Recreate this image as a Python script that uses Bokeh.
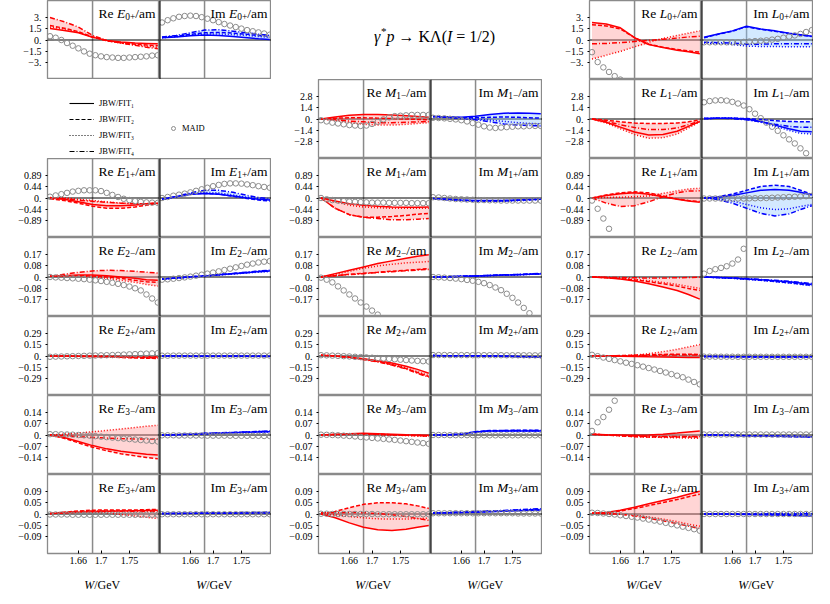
import numpy as np
from bokeh.plotting import figure
from bokeh.layouts import row, column
from bokeh.models import Range1d, Span, Label, Legend, LegendItem, FixedTicker
from bokeh.embed import file_html
from bokeh.resources import INLINE

nan = float("nan")

# ---------------- data ----------------
W_FIT = [1.61, 1.635, 1.66, 1.685, 1.71, 1.735, 1.76, 1.78, 1.80]
W_MAID = [1.61, 1.62, 1.63, 1.64, 1.65, 1.66, 1.67, 1.68, 1.69, 1.70,
          1.71, 1.72, 1.73, 1.74, 1.75, 1.76, 1.77, 1.78, 1.79, 1.80]
X_TICKS = [1.66, 1.70, 1.75]
X_TICK_LABELS = ["1.66", "1.7", "1.75"]
W_MARK = 1.685
ROW_TICK = [3.0, 2.8, 0.89, 0.17, 0.29, 0.14, 0.09]
ROW_TICK_LABELS = [("3.", "1.5"), ("2.8", "1.4"), ("0.89", "0.44"), ("0.17", "0.08"),
                   ("0.29", "0.15"), ("0.14", "0.07"), ("0.09", "0.05")]
FIT_LABELS = ["JBW/FIT\u2081", "JBW/FIT\u2082", "JBW/FIT\u2083", "JBW/FIT\u2084"]
MAID_LABEL = "MAID"

# each panel: 4 fits (FIT1..FIT4) on W_FIT, MAID on W_MAID
RE_E0P = [[1.5, 1.25, 0.95, 0.35, -0.05, -0.25, -0.4, -0.45, -0.5],
          [1.9, 1.55, 1.1, 0.4, -0.1, -0.35, -0.55, -0.65, -0.75],
          [1.7, 1.45, 1.0, 0.4, -0.1, -0.4, -0.65, -0.8, -0.95],
          [2.95, 2.4, 1.7, 0.6, -0.05, -0.4, -0.7, -0.95, -1.15]]
RE_E0P_MAID = [0.5, 0.3, 0.0, -0.4, -0.75, -1.1, -1.5, -1.8, -2.0, -2.15,
               -2.25, -2.3, -2.35, -2.35, -2.3, -2.25, -2.2, -2.15, -2.05, -2.0]
IM_E0P = [[0.3, 0.4, 0.55, 0.65, 0.6, 0.45, 0.3, 0.15, 0.05],
          [0.35, 0.5, 0.75, 0.95, 1.0, 0.9, 0.75, 0.6, 0.5],
          [0.3, 0.45, 0.65, 0.8, 0.8, 0.7, 0.6, 0.45, 0.35],
          [0.4, 0.6, 0.95, 1.3, 1.35, 1.15, 0.95, 0.75, 0.6]]
IM_E0P_MAID = [2.3, 2.6, 2.85, 3.05, 3.15, 3.2, 3.15, 3.0, 2.8, 2.6,
               2.35, 2.1, 1.9, 1.7, 1.5, 1.3, 1.15, 1.0, 0.85, 0.7]

RE_L0P = [[2.3, 2.1, 1.6, 0.3, -0.6, -1.0, -1.35, -1.55, -1.8],
          [2.0, 1.85, 1.45, 0.3, -0.55, -0.95, -1.25, -1.45, -1.6],
          [-2.5, -2.0, -1.5, -0.9, -0.3, 0.2, 0.6, 0.9, 1.2],
          [-0.5, -0.45, -0.35, -0.2, -0.05, 0.1, 0.25, 0.4, 0.5]]
RE_L0P_MAID = [-1.6, -2.9, -3.6, -4.2, -4.75, -5.2, nan, nan, nan, nan,
               nan, nan, nan, nan, nan, nan, nan, nan, nan, nan]
IM_L0P = [[0.35, 0.8, 1.2, 1.8, 1.45, 1.2, 0.9, 0.7, 0.5],
          [0.3, 0.75, 1.15, 1.75, 1.4, 1.15, 0.85, 0.65, 0.45],
          [-0.4, -0.5, -0.6, -0.8, -0.85, -0.85, -0.9, -0.9, -0.9],
          [-0.3, -0.35, -0.4, -0.55, -0.55, -0.5, -0.5, -0.5, -0.5]]
IM_L0P_MAID = [-0.3, -0.3, -0.3, -0.3, -0.3, -0.3, -0.3, -0.25, -0.2, -0.15,
               -0.1, -0.05, 0.05, 0.15, 0.3, 0.45, 0.6, 0.8, 1.05, 1.3]

RE_M1M = [[0.0, 0.25, 0.45, 0.55, 0.55, 0.5, 0.4, 0.3, 0.2],
          [0.0, 0.1, 0.15, 0.15, 0.1, 0.05, 0.0, -0.05, -0.1],
          [0.0, -0.2, -0.45, -0.65, -0.75, -0.75, -0.65, -0.55, -0.45],
          [0.0, -0.1, -0.25, -0.35, -0.45, -0.45, -0.4, -0.35, -0.3]]
RE_M1M_MAID = [-0.15, -0.3, -0.45, -0.55, -0.65, -0.75, -0.8, -0.85, -0.8, -0.6,
               -0.35, -0.05, 0.2, 0.35, 0.4, 0.45, 0.5, 0.5, 0.5, 0.5]
IM_M1M = [[0.3, 0.25, 0.2, 0.35, 0.55, 0.7, 0.75, 0.7, 0.65],
          [0.3, 0.25, 0.15, 0.15, 0.2, 0.25, 0.2, 0.15, 0.1],
          [0.3, 0.2, 0.1, 0.0, -0.15, -0.3, -0.45, -0.55, -0.6],
          [0.3, 0.2, 0.05, -0.1, -0.35, -0.6, -0.75, -0.8, -0.85]]
IM_M1M_MAID = [0.15, 0.12, 0.08, 0.02, -0.05, -0.15, -0.3, -0.5, -0.7, -0.9,
               -1.05, -1.1, -1.05, -1.0, -0.95, -0.9, -0.9, -0.85, -0.85, -0.85]

RE_L1M = [[0.0, -0.4, -1.0, -1.6, -1.95, -1.9, -1.5, -0.9, -0.3],
          [0.0, -0.15, -0.35, -0.5, -0.55, -0.55, -0.5, -0.35, -0.1],
          [0.0, -0.5, -1.2, -1.9, -2.35, -2.3, -1.85, -1.1, -0.35],
          [0.0, -0.3, -0.7, -1.05, -1.3, -1.3, -1.1, -0.7, -0.25]]
RE_L1M_MAID = [nan, nan, nan, nan, nan, nan, nan, nan, nan, nan,
               nan, nan, nan, nan, nan, nan, nan, nan, nan, nan]
IM_L1M = [[0.05, 0.1, 0.1, 0.0, -0.3, -0.75, -1.2, -1.5, -1.55],
          [0.05, 0.1, 0.1, 0.05, -0.05, -0.2, -0.3, -0.35, -0.35],
          [0.05, 0.1, 0.1, -0.05, -0.4, -0.9, -1.4, -1.75, -1.85],
          [0.05, 0.1, 0.05, -0.1, -0.35, -0.65, -0.9, -1.0, -1.0]]
IM_L1M_MAID = [2.05, 2.2, 2.28, 2.3, 2.25, 2.1, 1.9, 1.65, 1.2, 0.65,
               0.1, -0.45, -0.95, -1.45, -2.0, -2.5, -3.0, -3.6, -4.2, nan]

RE_E1P = [[0.0, -0.05, -0.15, -0.25, -0.3, -0.3, -0.27, -0.22, -0.2],
          [-0.03, -0.1, -0.2, -0.32, -0.4, -0.4, -0.35, -0.28, -0.22],
          [0.02, 0.0, -0.05, -0.1, -0.15, -0.2, -0.22, -0.22, -0.2],
          [0.0, -0.03, -0.08, -0.13, -0.17, -0.2, -0.22, -0.22, -0.2]]
RE_E1P_MAID = [0.05, 0.1, 0.15, 0.2, 0.25, 0.28, 0.3, 0.3, 0.3, 0.27,
               0.2, 0.12, 0.04, -0.03, -0.08, -0.12, -0.15, -0.17, -0.18, -0.19]
IM_E1P = [[-0.05, 0.05, 0.15, 0.18, 0.15, 0.08, 0.0, -0.05, -0.08],
          [-0.05, 0.05, 0.15, 0.18, 0.15, 0.07, -0.02, -0.08, -0.12],
          [-0.05, 0.05, 0.16, 0.22, 0.2, 0.12, 0.03, -0.03, -0.07],
          [-0.05, 0.06, 0.2, 0.3, 0.3, 0.22, 0.1, 0.02, -0.03]]
IM_E1P_MAID = [0.0, 0.04, 0.09, 0.13, 0.17, 0.22, 0.28, 0.34, 0.4, 0.46,
               0.51, 0.55, 0.57, 0.57, 0.56, 0.53, 0.5, 0.46, 0.43, 0.4]

RE_M1P = [[0.0, -0.12, -0.22, -0.28, -0.32, -0.35, -0.36, -0.36, -0.35],
          [0.0, -0.4, -0.65, -0.75, -0.75, -0.72, -0.68, -0.63, -0.6],
          [0.0, -0.15, -0.28, -0.35, -0.38, -0.4, -0.4, -0.4, -0.4],
          [0.0, -0.4, -0.65, -0.75, -0.8, -0.85, -0.85, -0.83, -0.8]]
RE_M1P_MAID = [0.0, -0.05, -0.08, -0.1, -0.12, -0.14, -0.15, -0.16, -0.17, -0.18,
               -0.18, -0.18, -0.19, -0.19, -0.19, -0.19, -0.2, -0.2, -0.2, -0.2]
IM_M1P = [[-0.02, -0.05, -0.08, -0.1, -0.1, -0.1, -0.08, -0.06, -0.05],
          [-0.03, -0.07, -0.1, -0.12, -0.12, -0.11, -0.09, -0.07, -0.05],
          [-0.02, -0.06, -0.1, -0.13, -0.14, -0.13, -0.11, -0.08, -0.06],
          [-0.03, -0.06, -0.09, -0.11, -0.11, -0.1, -0.08, -0.06, -0.05]]
IM_M1P_MAID = [0.03, 0.02, 0.0, -0.02, -0.04, -0.05, -0.06, -0.07, -0.08, -0.08,
               -0.09, -0.09, -0.1, -0.1, -0.1, -0.1, -0.1, -0.1, -0.1, -0.1]

RE_L1P = [[0.0, 0.1, 0.17, 0.2, 0.15, 0.05, -0.05, -0.12, -0.17],
          [0.0, 0.12, 0.2, 0.24, 0.2, 0.08, -0.04, -0.1, -0.14],
          [0.0, 0.02, 0.03, 0.05, 0.08, 0.18, 0.28, 0.35, 0.38],
          [0.0, -0.2, -0.33, -0.3, -0.15, 0.05, 0.2, 0.27, 0.28]]
RE_L1P_MAID = [-0.1, -0.42, -0.8, -1.2, nan, nan, nan, nan, nan, nan,
               nan, nan, nan, nan, nan, nan, nan, nan, nan, nan]
IM_L1P = [[0.0, 0.03, 0.1, 0.2, 0.3, 0.33, 0.3, 0.22, 0.12],
          [0.0, 0.05, 0.15, 0.3, 0.45, 0.5, 0.45, 0.3, 0.15],
          [0.0, -0.04, -0.12, -0.25, -0.38, -0.45, -0.42, -0.33, -0.25],
          [0.0, -0.06, -0.2, -0.4, -0.6, -0.7, -0.62, -0.45, -0.3]]
IM_L1P_MAID = [-0.02, -0.02, -0.02, -0.02, -0.02, -0.02, -0.02, -0.02, -0.015, -0.01,
               -0.005, 0.0, 0.01, 0.02, 0.03, 0.04, 0.05, 0.06, 0.07, 0.08]

RE_E2M = [[0.005, 0.01, 0.015, 0.015, 0.01, 0.0, -0.01, -0.02, -0.025],
          [0.005, 0.008, 0.01, 0.008, 0.0, -0.01, -0.025, -0.035, -0.04],
          [0.005, 0.005, 0.005, 0.0, -0.01, -0.025, -0.04, -0.055, -0.068],
          [0.005, 0.02, 0.035, 0.045, 0.05, 0.048, 0.042, 0.036, 0.03]]
RE_E2M_MAID = [0.0, -0.003, -0.005, -0.008, -0.01, -0.013, -0.016, -0.02, -0.025, -0.03,
               -0.036, -0.043, -0.051, -0.06, -0.071, -0.084, -0.1, -0.13, -0.16, -0.19]
IM_E2M = [[-0.015, -0.008, 0.0, 0.008, 0.016, 0.024, 0.032, 0.04, 0.045],
          [-0.015, -0.008, 0.0, 0.008, 0.016, 0.025, 0.034, 0.042, 0.048],
          [-0.015, -0.009, -0.002, 0.006, 0.014, 0.022, 0.03, 0.036, 0.04],
          [-0.015, -0.007, 0.002, 0.01, 0.018, 0.027, 0.036, 0.044, 0.05]]
IM_E2M_MAID = [-0.02, -0.017, -0.013, -0.008, -0.003, 0.003, 0.01, 0.017, 0.025, 0.033,
               0.042, 0.052, 0.062, 0.072, 0.082, 0.092, 0.1, 0.108, 0.114, 0.118]

RE_M2M = [[0.0, 0.025, 0.05, 0.075, 0.1, 0.12, 0.14, 0.155, 0.165],
          [0.0, 0.01, 0.02, 0.028, 0.035, 0.043, 0.05, 0.056, 0.062],
          [0.0, 0.02, 0.042, 0.065, 0.082, 0.095, 0.105, 0.11, 0.115],
          [0.0, 0.01, 0.018, 0.025, 0.033, 0.04, 0.046, 0.052, 0.056]]
RE_M2M_MAID = [-0.005, -0.02, -0.04, -0.07, -0.1, -0.13, -0.16, -0.19, -0.22, -0.25,
               -0.28, nan, nan, nan, nan, nan, nan, nan, nan, nan]
IM_M2M = [[0.0, 0.002, 0.005, 0.008, 0.011, 0.014, 0.017, 0.02, 0.023],
          [0.0, 0.002, 0.005, 0.008, 0.011, 0.015, 0.018, 0.021, 0.025],
          [0.0, 0.002, 0.004, 0.007, 0.01, 0.013, 0.016, 0.019, 0.022],
          [0.0, 0.002, 0.005, 0.009, 0.012, 0.016, 0.019, 0.023, 0.026]]
IM_M2M_MAID = [0.0, -0.002, -0.005, -0.008, -0.012, -0.016, -0.022, -0.028, -0.036, -0.046,
               -0.06, -0.078, -0.098, -0.125, -0.155, -0.19, -0.23, -0.27, nan, nan]

RE_L2M = [[0.0, -0.005, -0.015, -0.03, -0.05, -0.075, -0.1, -0.13, -0.165],
          [0.0, -0.005, -0.012, -0.022, -0.035, -0.05, -0.068, -0.085, -0.1],
          [0.0, -0.004, -0.01, -0.018, -0.028, -0.04, -0.055, -0.07, -0.085],
          [0.0, -0.002, -0.004, -0.006, -0.007, -0.007, -0.006, -0.004, -0.002]]
RE_L2M_MAID = [nan, nan, nan, nan, nan, nan, nan, nan, nan, nan,
               nan, nan, nan, nan, nan, nan, nan, nan, nan, nan]
IM_L2M = [[0.0, -0.004, -0.008, -0.014, -0.02, -0.028, -0.036, -0.045, -0.055],
          [0.0, -0.004, -0.009, -0.016, -0.024, -0.033, -0.043, -0.053, -0.062],
          [0.0, -0.005, -0.01, -0.017, -0.025, -0.035, -0.045, -0.055, -0.065],
          [0.0, -0.003, -0.007, -0.012, -0.018, -0.025, -0.032, -0.04, -0.048]]
IM_L2M_MAID = [0.025, 0.045, 0.058, 0.068, 0.08, 0.1, 0.13, 0.21, nan, nan,
               nan, nan, nan, nan, nan, nan, nan, nan, nan, nan]

RE_E2P = [[0.0, 0.0, -0.002, -0.004, -0.006, -0.008, -0.01, -0.012, -0.014],
          [0.0, -0.002, -0.005, -0.009, -0.014, -0.019, -0.024, -0.028, -0.032],
          [0.0, 0.0, 0.0, 0.0, -0.002, -0.005, -0.008, -0.01, -0.012],
          [0.0, -0.001, -0.004, -0.007, -0.011, -0.015, -0.019, -0.022, -0.025]]
RE_E2P_MAID = [-0.01, -0.008, -0.006, -0.004, -0.002, 0.0, 0.002, 0.004, 0.006, 0.008,
               0.01, 0.012, 0.015, 0.018, 0.021, 0.024, 0.027, 0.03, 0.033, 0.036]
IM_E2P = [[0.0, -0.001, -0.002, -0.003, -0.003, -0.003, -0.003, -0.003, -0.004],
          [0.0, -0.001, -0.002, -0.002, -0.003, -0.003, -0.004, -0.004, -0.005],
          [0.0, 0.0, -0.001, -0.002, -0.002, -0.002, -0.002, -0.002, -0.002],
          [0.0, -0.001, -0.002, -0.003, -0.004, -0.004, -0.004, -0.005, -0.005]]
IM_E2P_MAID = [0.004, 0.004, 0.005, 0.005, 0.005, 0.005, 0.005, 0.005, 0.005, 0.005,
               0.005, 0.005, 0.005, 0.005, 0.005, 0.005, 0.005, 0.005, 0.005, 0.005]

RE_M2P = [[0.01, 0.0, -0.015, -0.035, -0.06, -0.09, -0.13, -0.17, -0.22],
          [0.01, 0.0, -0.018, -0.04, -0.07, -0.11, -0.16, -0.21, -0.26],
          [0.01, 0.0, -0.017, -0.04, -0.068, -0.105, -0.15, -0.2, -0.25],
          [0.01, 0.0, -0.02, -0.045, -0.075, -0.115, -0.165, -0.22, -0.27]]
RE_M2P_MAID = [0.01, 0.008, 0.005, 0.002, -0.002, -0.006, -0.01, -0.014, -0.018, -0.022,
               -0.027, -0.032, -0.037, -0.042, -0.047, -0.052, -0.057, -0.062, -0.066, -0.07]
IM_M2P = [[0.005, 0.004, 0.003, 0.002, 0.0, -0.003, -0.006, -0.01, -0.014],
          [0.005, 0.004, 0.003, 0.001, -0.001, -0.004, -0.008, -0.012, -0.016],
          [0.005, 0.004, 0.003, 0.002, 0.001, -0.002, -0.005, -0.008, -0.011],
          [0.005, 0.004, 0.003, 0.001, -0.002, -0.005, -0.009, -0.013, -0.018]]
IM_M2P_MAID = [0.012, 0.012, 0.012, 0.011, 0.011, 0.011, 0.011, 0.01, 0.01, 0.01,
               0.01, 0.01, 0.01, 0.009, 0.009, 0.009, 0.009, 0.008, 0.008, 0.008]

RE_L2P = [[0.0, 0.0, -0.003, -0.006, -0.01, -0.013, -0.016, -0.018, -0.02],
          [0.0, 0.002, 0.005, 0.01, 0.015, 0.02, 0.022, 0.022, 0.02],
          [0.0, 0.0, 0.002, 0.01, 0.03, 0.055, 0.085, 0.115, 0.145],
          [0.0, 0.001, 0.003, 0.006, 0.009, 0.011, 0.012, 0.012, 0.012]]
RE_L2P_MAID = [0.015, -0.002, -0.02, -0.036, -0.052, -0.068, -0.085, -0.1, -0.117, -0.135,
               -0.153, -0.172, -0.19, -0.21, -0.23, -0.25, -0.27, -0.3, -0.33, -0.36]
IM_L2P = [[-0.005, -0.007, -0.009, -0.01, -0.01, -0.011, -0.011, -0.011, -0.011],
          [-0.005, -0.008, -0.01, -0.011, -0.012, -0.012, -0.012, -0.012, -0.012],
          [-0.005, -0.006, -0.008, -0.009, -0.009, -0.01, -0.01, -0.01, -0.01],
          [-0.005, -0.007, -0.009, -0.01, -0.011, -0.011, -0.012, -0.012, -0.012]]
IM_L2P_MAID = [-0.008, -0.008, -0.009, -0.009, -0.009, -0.009, -0.01, -0.01, -0.01, -0.01,
               -0.01, -0.01, -0.01, -0.01, -0.01, -0.01, -0.01, -0.01, -0.01, -0.01]

RE_E3M = [[0.0, -0.015, -0.04, -0.065, -0.085, -0.1, -0.11, -0.118, -0.122],
          [0.0, -0.02, -0.048, -0.075, -0.097, -0.115, -0.128, -0.138, -0.145],
          [0.0, 0.005, 0.012, 0.02, 0.028, 0.037, 0.046, 0.054, 0.06],
          [0.0, -0.004, -0.01, -0.015, -0.019, -0.022, -0.024, -0.025, -0.025]]
RE_E3M_MAID = [0.005, 0.005, 0.004, 0.003, 0.002, 0.0, -0.002, -0.004, -0.007, -0.01,
               -0.013, -0.016, -0.019, -0.022, -0.025, -0.028, -0.031, -0.034, -0.037, -0.04]
IM_E3M = [[0.0, 0.002, 0.005, 0.008, 0.011, 0.014, 0.017, 0.019, 0.02],
          [0.0, 0.002, 0.006, 0.009, 0.012, 0.015, 0.018, 0.021, 0.023],
          [0.0, 0.002, 0.004, 0.007, 0.01, 0.013, 0.015, 0.017, 0.018],
          [0.0, 0.003, 0.006, 0.01, 0.013, 0.016, 0.019, 0.022, 0.024]]
IM_E3M_MAID = [-0.002, -0.002, -0.002, -0.003, -0.003, -0.003, -0.003, -0.003, -0.004, -0.004,
               -0.004, -0.004, -0.004, -0.005, -0.005, -0.005, -0.005, -0.005, -0.006, -0.006]

RE_M3M = [[0.0, 0.004, 0.008, 0.01, 0.008, 0.005, 0.002, 0.0, -0.002],
          [0.0, 0.003, 0.006, 0.007, 0.005, 0.002, -0.001, -0.003, -0.005],
          [0.0, 0.002, 0.004, 0.004, 0.002, 0.0, -0.003, -0.006, -0.008],
          [0.0, 0.003, 0.005, 0.006, 0.004, 0.001, -0.002, -0.004, -0.006]]
RE_M3M_MAID = [0.002, 0.001, 0.0, -0.002, -0.004, -0.006, -0.009, -0.012, -0.015, -0.018,
               -0.021, -0.024, -0.027, -0.03, -0.034, -0.038, -0.042, -0.046, -0.05, -0.054]
IM_M3M = [[0.0, 0.001, 0.005, 0.018, 0.024, 0.025, 0.025, 0.025, 0.025],
          [0.0, 0.001, 0.006, 0.02, 0.027, 0.028, 0.029, 0.029, 0.03],
          [0.0, 0.001, 0.004, 0.016, 0.022, 0.023, 0.023, 0.023, 0.023],
          [0.0, 0.001, 0.006, 0.02, 0.026, 0.027, 0.028, 0.028, 0.028]]
IM_M3M_MAID = [0.0, 0.0, 0.0, -0.001, -0.001, -0.001, -0.001, -0.001, -0.002, -0.002,
               -0.002, -0.002, -0.002, -0.002, -0.002, -0.002, -0.002, -0.002, -0.002, -0.002]

RE_L3M = [[0.005, 0.002, 0.0, -0.002, 0.0, 0.005, 0.012, 0.018, 0.024],
          [0.005, 0.0, -0.005, -0.01, -0.012, -0.012, -0.012, -0.012, -0.012],
          [0.005, 0.0, -0.005, -0.01, -0.013, -0.015, -0.017, -0.019, -0.021],
          [0.005, 0.001, -0.003, -0.006, -0.008, -0.009, -0.009, -0.009, -0.009]]
RE_L3M_MAID = [0.025, 0.078, 0.11, 0.155, 0.21, nan, nan, nan, nan, nan,
               nan, nan, nan, nan, nan, nan, nan, nan, nan, nan]
IM_L3M = [[0.0, -0.001, -0.002, -0.004, -0.006, -0.007, -0.008, -0.009, -0.01],
          [0.0, -0.001, -0.003, -0.005, -0.007, -0.009, -0.01, -0.011, -0.012],
          [0.0, -0.001, -0.002, -0.003, -0.004, -0.005, -0.006, -0.007, -0.008],
          [0.0, -0.001, -0.003, -0.005, -0.006, -0.008, -0.009, -0.01, -0.011]]
IM_L3M_MAID = [0.003, 0.003, 0.003, 0.003, 0.003, 0.003, 0.003, 0.003, 0.003, 0.003,
               0.003, 0.003, 0.003, 0.003, 0.003, 0.003, 0.003, 0.003, 0.003, 0.003]

RE_E3P = [[0.002, 0.004, 0.007, 0.009, 0.011, 0.012, 0.013, 0.014, 0.015],
          [0.002, 0.007, 0.012, 0.015, 0.016, 0.016, 0.016, 0.017, 0.018],
          [0.002, 0.006, 0.009, 0.008, 0.004, -0.002, -0.008, -0.013, -0.018],
          [0.002, 0.006, 0.01, 0.012, 0.012, 0.011, 0.01, 0.01, 0.01]]
RE_E3P_MAID = [-0.002, -0.002, -0.002, -0.002, -0.003, -0.003, -0.003, -0.003, -0.003, -0.003,
               -0.003, -0.003, -0.003, -0.003, -0.003, -0.003, -0.003, -0.003, -0.003, -0.003]
IM_E3P = [[0.002, 0.002, 0.003, 0.003, 0.003, 0.004, 0.004, 0.005, 0.005],
          [0.002, 0.003, 0.003, 0.004, 0.004, 0.005, 0.005, 0.006, 0.006],
          [0.002, 0.002, 0.002, 0.003, 0.003, 0.003, 0.004, 0.004, 0.004],
          [0.002, 0.003, 0.003, 0.004, 0.005, 0.005, 0.006, 0.006, 0.007]]
IM_E3P_MAID = [-0.001, -0.001, -0.001, -0.001, -0.001, -0.001, -0.001, -0.001, -0.001, -0.001,
               -0.001, -0.001, -0.001, -0.001, -0.001, -0.001, -0.001, -0.001, -0.001, -0.001]

RE_M3P = [[0.0, -0.015, -0.035, -0.052, -0.062, -0.065, -0.06, -0.052, -0.045],
          [0.0, 0.01, 0.025, 0.038, 0.044, 0.044, 0.04, 0.032, 0.022],
          [0.0, -0.004, -0.01, -0.015, -0.019, -0.02, -0.02, -0.018, -0.016],
          [0.005, 0.005, 0.006, 0.005, 0.002, -0.003, -0.01, -0.018, -0.025]]
RE_M3P_MAID = [0.001, 0.001, 0.0, 0.0, 0.0, 0.0, 0.0, 0.0, 0.0, 0.0,
               -0.001, -0.001, -0.001, -0.001, -0.001, -0.001, -0.001, -0.001, -0.001, -0.001]
IM_M3P = [[0.004, 0.005, 0.006, 0.007, 0.009, 0.011, 0.013, 0.015, 0.016],
          [0.004, 0.005, 0.007, 0.009, 0.011, 0.013, 0.015, 0.017, 0.018],
          [0.004, 0.005, 0.006, 0.008, 0.01, 0.012, 0.014, 0.016, 0.017],
          [0.004, 0.006, 0.008, 0.01, 0.012, 0.014, 0.017, 0.019, 0.021]]
IM_M3P_MAID = [0.003, 0.003, 0.003, 0.003, 0.003, 0.003, 0.003, 0.003, 0.003, 0.003,
               0.003, 0.003, 0.003, 0.003, 0.003, 0.002, 0.002, 0.002, 0.002, 0.002]

RE_L3P = [[0.003, 0.006, 0.015, 0.027, 0.04, 0.053, 0.066, 0.078, 0.09],
          [0.003, 0.005, 0.012, 0.022, 0.033, 0.045, 0.057, 0.068, 0.078],
          [0.003, 0.002, 0.0, -0.005, -0.012, -0.02, -0.03, -0.04, -0.048],
          [0.003, 0.002, -0.001, -0.008, -0.017, -0.027, -0.038, -0.048, -0.058]]
RE_L3P_MAID = [0.005, 0.004, 0.002, 0.0, -0.002, -0.005, -0.008, -0.011, -0.014, -0.018,
               -0.022, -0.026, -0.03, -0.035, -0.04, -0.045, -0.05, -0.055, -0.06, -0.066]
IM_L3P = [[0.0, 0.0, -0.001, -0.002, -0.003, -0.004, -0.005, -0.007, -0.008],
          [0.0, 0.0, -0.001, -0.001, -0.002, -0.002, -0.003, -0.003, -0.004],
          [0.0, 0.0, 0.001, 0.001, 0.002, 0.002, 0.003, 0.004, 0.005],
          [0.0, 0.0, 0.0, 0.0, 0.0, 0.0, 0.0, 0.001, 0.001]]
IM_L3P_MAID = [0.0, 0.0, 0.0, 0.0, 0.0, 0.0, 0.0, 0.0, 0.0, 0.0,
               0.0, 0.0, 0.0, 0.0, 0.0, 0.0, 0.0, 0.0, 0.0, 0.0]

# panel table: (letter, subscript) -> data
PANELS = {
    ("E", "0+"): (RE_E0P, RE_E0P_MAID, IM_E0P, IM_E0P_MAID),
    ("L", "0+"): (RE_L0P, RE_L0P_MAID, IM_L0P, IM_L0P_MAID),
    ("M", "1\u2212"): (RE_M1M, RE_M1M_MAID, IM_M1M, IM_M1M_MAID),
    ("L", "1\u2212"): (RE_L1M, RE_L1M_MAID, IM_L1M, IM_L1M_MAID),
    ("E", "1+"): (RE_E1P, RE_E1P_MAID, IM_E1P, IM_E1P_MAID),
    ("M", "1+"): (RE_M1P, RE_M1P_MAID, IM_M1P, IM_M1P_MAID),
    ("L", "1+"): (RE_L1P, RE_L1P_MAID, IM_L1P, IM_L1P_MAID),
    ("E", "2\u2212"): (RE_E2M, RE_E2M_MAID, IM_E2M, IM_E2M_MAID),
    ("M", "2\u2212"): (RE_M2M, RE_M2M_MAID, IM_M2M, IM_M2M_MAID),
    ("L", "2\u2212"): (RE_L2M, RE_L2M_MAID, IM_L2M, IM_L2M_MAID),
    ("E", "2+"): (RE_E2P, RE_E2P_MAID, IM_E2P, IM_E2P_MAID),
    ("M", "2+"): (RE_M2P, RE_M2P_MAID, IM_M2P, IM_M2P_MAID),
    ("L", "2+"): (RE_L2P, RE_L2P_MAID, IM_L2P, IM_L2P_MAID),
    ("E", "3\u2212"): (RE_E3M, RE_E3M_MAID, IM_E3M, IM_E3M_MAID),
    ("M", "3\u2212"): (RE_M3M, RE_M3M_MAID, IM_M3M, IM_M3M_MAID),
    ("L", "3\u2212"): (RE_L3M, RE_L3M_MAID, IM_L3M, IM_L3M_MAID),
    ("E", "3+"): (RE_E3P, RE_E3P_MAID, IM_E3P, IM_E3P_MAID),
    ("M", "3+"): (RE_M3P, RE_M3P_MAID, IM_M3P, IM_M3P_MAID),
    ("L", "3+"): (RE_L3P, RE_L3P_MAID, IM_L3P, IM_L3P_MAID),
}
GRID = [
    [("E", "0+"), "TITLE", ("L", "0+")],
    ["LEGEND", ("M", "1\u2212"), ("L", "1\u2212")],
    [("E", "1+"), ("M", "1+"), ("L", "1+")],
    [("E", "2\u2212"), ("M", "2\u2212"), ("L", "2\u2212")],
    [("E", "2+"), ("M", "2+"), ("L", "2+")],
    [("E", "3\u2212"), ("M", "3\u2212"), ("L", "3\u2212")],
    [("E", "3+"), ("M", "3+"), ("L", "3+")],
]

# ---------------- style ----------------
FONT = "Liberation Serif"
LB, PW, PH, BB, XL = 47, 112, 79, 16, 22
XMIN, XMAX = 1.6056, 1.803
YSCALE = 1.73
RED, BLUE = "#ff0000", "#0000ff"
PINK, LBLUE = "#ff9090", "#8cc4ff"
FRAME = "#8a8a8a"
MARK = "#8a8a8a"
MAID_COL = "#8c8c8c"
DASHES = ["solid", "4 2", "1 2", "5 2 1 2"]
TS = 13.5

CW_RM = {'R': .667, 'e': .444, 'I': .333, 'm': .778, '/': .278, 'a': .444, '+': .564,
         '\u2212': .564, '.': .25, ' ': .25, 'G': .722, 'V': .722, 'K': .722, '\u039b': .722,
         '(': .333, ')': .333, '=': .564, '\u2192': 1.0, '*': .5}
CW_IT = {'E': .611, 'M': .833, 'L': .556, 'W': .833, '\u03b3': .44, 'p': .5, 'I': .333}


def text_w(s, style, size):
    tab = CW_IT if style == "italic" else CW_RM
    return sum(tab.get(c, 0.5) for c in s) * size


def rich(p, pieces, x, y, x0, y0, align="left"):
    total = sum(text_w(t, st, sz) for t, st, sz, dy in pieces)
    cur = x0 - total if align == "right" else (x0 - total / 2 if align == "center" else x0)
    for t, st, sz, dy in pieces:
        if t.strip():
            p.add_layout(Label(x=x, y=y, x_offset=cur, y_offset=y0 + dy, text=t,
                               text_font=FONT, text_font_size=f"{sz}px", text_font_style=st,
                               text_align="left", text_baseline="alphabetic",
                               text_color="black"))
        cur += text_w(t, st, sz)


def style_axis(ax):
    ax.axis_line_color = None
    ax.minor_tick_line_color = None
    ax.major_tick_line_color = "black"
    ax.major_label_text_font = FONT
    ax.major_label_text_font_size = "10px"
    ax.major_label_text_color = "black"


def make_panel(part, letter, sub, fits, maid, r):
    bottom = r == 6
    re = part == "Re"
    a = ROW_TICK[r]
    ymax = a * YSCALE
    p = figure(frame_width=PW, frame_height=PH,
               x_range=Range1d(XMIN, XMAX), y_range=Range1d(-ymax, ymax),
               x_axis_location="below" if bottom else None,
               y_axis_location="left" if re else None,
               toolbar_location=None, output_backend="svg",
               min_border_left=LB if re else 0, min_border_right=0,
               min_border_top=0, min_border_bottom=BB if bottom else 0)
    p.grid.visible = False
    p.outline_line_color = FRAME
    p.outline_line_width = 1.3
    p.background_fill_color = "white"
    p.border_fill_color = "white"
    col = RED if re else BLUE
    band = PINK if re else LBLUE
    arr = np.array(fits, dtype=float)
    p.add_layout(Span(location=W_MARK, dimension="height", line_color=MARK,
                      line_width=1.5, level="underlay"))
    p.add_layout(Span(location=0, dimension="width", line_color="black",
                      line_width=1, level="underlay"))
    p.varea(x=W_FIT, y1=arr.min(axis=0), y2=arr.max(axis=0),
            fill_color=band, fill_alpha=0.38)
    for f, dash in zip(fits, DASHES):
        p.line(W_FIT, f, line_color=col, line_width=1.5, line_dash=dash)
    p.scatter(W_MAID, maid, marker="circle", size=5.5, line_color=MAID_COL,
              fill_color=None, line_width=1)
    if not re:
        p.add_layout(Span(location=XMIN, dimension="height", line_color="black",
                          line_width=2, level="overlay"))
    if re:
        ax = p.yaxis[0]
        hi, half = ROW_TICK_LABELS[r]
        ax.ticker = FixedTicker(ticks=[-a, -a / 2, 0, a / 2, a])
        ax.major_label_overrides = {a: hi, a / 2: half, 0: "0.",
                                    -a / 2: "\u2212" + half, -a: "\u2212" + hi}
        style_axis(ax)
        ax.major_tick_out = 2
        ax.major_tick_in = 0
        ax.major_label_standoff = 4
    if bottom:
        ax = p.xaxis[0]
        ax.ticker = FixedTicker(ticks=X_TICKS)
        ax.major_label_overrides = dict(zip(X_TICKS, X_TICK_LABELS))
        style_axis(ax)
        ax.major_tick_out = 0
        ax.major_tick_in = 3
        ax.major_label_standoff = 3
    rich(p, [(part, "normal", TS, 0), (" ", "normal", TS, 0), (letter, "italic", TS, 0),
             (sub, "normal", TS * 0.7, -3), ("/am", "normal", TS, 0)],
         XMAX, ymax, -4, -13, align="right")
    return p


def blank(width, height, xr=None, **kw):
    p = figure(width=width, height=height,
               x_range=xr if xr is not None else Range1d(0, width), y_range=Range1d(0, height),
               x_axis_location=None, y_axis_location=None, toolbar_location=None,
               output_backend="svg", **kw)
    p.grid.visible = False
    p.outline_line_color = None
    return p


def legend_cells():
    p1 = blank(LB + PW, PH, min_border=0)
    items = []
    for lab, dash in zip(FIT_LABELS, DASHES):
        rr = p1.line(x=[-50, -40], y=[-50, -50], line_color="black", line_width=1.1,
                     line_dash=dash)
        items.append(LegendItem(label=lab, renderers=[rr]))
    lg = Legend(items=items, location=(69, 1), glyph_width=25, glyph_height=12,
                label_height=12, spacing=4, padding=0, margin=0, label_standoff=5,
                border_line_color=None, background_fill_alpha=0,
                label_text_font=FONT, label_text_font_size="8.5px", label_text_color="black")
    p1.add_layout(lg)
    p2 = blank(PW, PH, min_border=0)
    rr = p2.scatter(x=[-50], y=[-50], marker="circle", size=5.5, line_color=MAID_COL,
                    fill_color=None, line_width=1)
    lg2 = Legend(items=[LegendItem(label=MAID_LABEL, renderers=[rr])], location=(9, 24),
                 glyph_width=10, glyph_height=12, label_height=12, padding=0, margin=0,
                 label_standoff=4, border_line_color=None, background_fill_alpha=0,
                 label_text_font=FONT, label_text_font_size="8.5px", label_text_color="black")
    p2.add_layout(lg2)
    return [p1, p2]


def title_cell():
    w = LB + 2 * PW
    p = blank(w, PH, min_border=0)
    fs = 16
    rich(p, [("\u03b3", "italic", fs, 0), ("*", "normal", 11, 6), ("p", "italic", fs, 0),
             (" ", "normal", fs, 0), ("\u2192 K\u039b(", "normal", fs, 0),
             ("I", "italic", fs, 0), (" ", "normal", fs, 0), ("= 1/2)", "normal", fs, 0)],
         LB + PW + 4, PH - 36, 0, 0, align="center")
    return [p]


def xlabel_cell(re):
    p = blank(LB + PW if re else PW, XL, xr=Range1d(XMIN, XMAX),
              min_border_left=LB if re else 0, min_border_right=0,
              min_border_top=0, min_border_bottom=0)
    rich(p, [("W", "italic", 12, 0), ("/GeV", "normal", 12, 0)],
         1.702, 7, 0, 0, align="center")
    return p


rows = []
for r, grid_row in enumerate(GRID):
    kids = []
    for cell in grid_row:
        if cell == "TITLE":
            kids += title_cell()
        elif cell == "LEGEND":
            kids += legend_cells()
        else:
            letter, sub = cell
            re_f, re_m, im_f, im_m = PANELS[cell]
            kids.append(make_panel("Re", letter, sub, re_f, re_m, r))
            kids.append(make_panel("Im", letter, sub, im_f, im_m, r))
    rows.append(row(*kids))
rows.append(row(*[xlabel_cell(g % 2 == 0) for g in range(6)]))

layout = column(*rows)
open("out.html", "w").write(file_html(layout, INLINE, title="multipoles"))
